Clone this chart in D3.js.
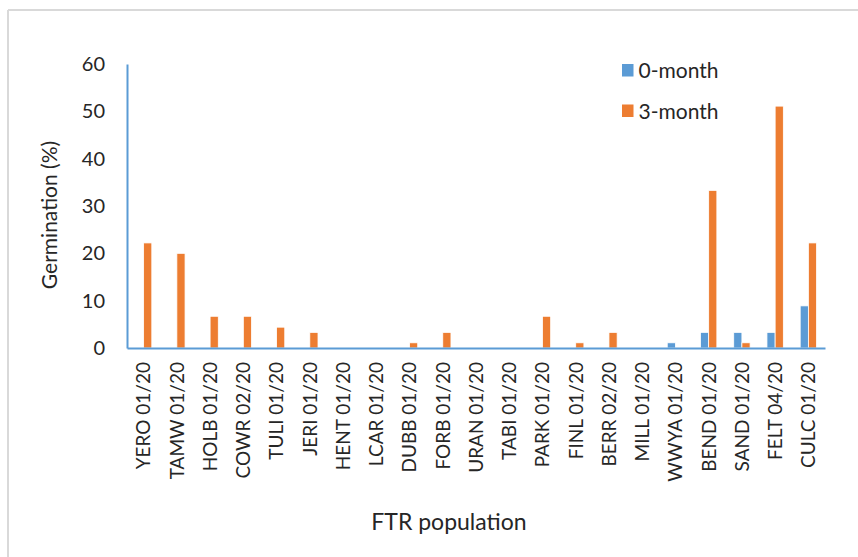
<!DOCTYPE html>
<html>
<head>
<meta charset="utf-8">
<script src="https://cdn.jsdelivr.net/npm/d3@7"></script>
<style>
  body { margin: 0; background: #fff; }
  svg text { font-family: Lato, Carlito, Calibri, sans-serif; fill: #262626; }
</style>
</head>
<body>
<script>
// data
const populations = ['YERO 01/20','TAMW 01/20','HOLB 01/20','COWR 02/20','TULI 01/20','JERI 01/20',
  'HENT 01/20','LCAR 01/20','DUBB 01/20','FORB 01/20','URAN 01/20','TABI 01/20','PARK 01/20',
  'FINL 01/20','BERR 02/20','MILL 01/20','WWYA 01/20','BEND 01/20','SAND 01/20','FELT 04/20','CULC 01/20'];
const seriesNames = ['0-month', '3-month'];
const zeroMonth  = [0,0,0,0,0,0,0,0,0,0,0,0,0,0,0,0,1.1,3.3,3.3,3.3,8.9];
const threeMonth = [22.2,20.0,6.7,6.7,4.4,3.3,0,0,1.1,3.3,0,0,6.7,1.1,3.3,0,0,33.3,1.1,51.1,22.2];
const yTicks = [0,10,20,30,40,50,60];

const w = 858, h = 557;
const colors = {'0-month': '#5B9BD5', '3-month': '#ED7D31'};

const rows = populations.map((p, i) => ({name: p, '0-month': zeroMonth[i], '3-month': threeMonth[i]}));

const svg = d3.select('body').append('svg').attr('width', w).attr('height', h);

// chart frame (only top and left edges visible)
svg.append('line').attr('x1', 8).attr('y1', 10).attr('x2', w).attr('y2', 10)
  .attr('stroke', '#d9d9d9').attr('stroke-width', 2);
svg.append('line').attr('x1', 8).attr('y1', 10).attr('x2', 8).attr('y2', h)
  .attr('stroke', '#d9d9d9').attr('stroke-width', 2);

const x0 = d3.scaleBand().domain(populations).range([127, 825])
  .paddingInner(0.507).paddingOuter(0.2535);
const x1 = d3.scaleBand().domain(seriesNames).range([0, x0.bandwidth()]);
const y = d3.scaleLinear().domain([0, 60]).range([348, 64]);

// bars
const groups = svg.selectAll('.grp').data(rows).enter().append('g')
  .attr('class', 'grp')
  .attr('transform', d => 'translate(' + x0(d.name) + ',0)');

groups.selectAll('rect')
  .data(d => seriesNames.map(k => ({key: k, value: d[k]})))
  .enter().append('rect')
  .filter(d => d.value > 0)
  .attr('x', d => x1(d.key))
  .attr('y', d => y(d.value))
  .attr('width', x1.bandwidth())
  .attr('height', d => y(0) - y(d.value))
  .attr('fill', d => colors[d.key])
  .attr('stroke', '#fff').attr('stroke-width', 0.8);

// y axis
const leftAxis = d3.axisLeft(y).tickValues(yTicks).tickSize(0).tickSizeOuter(0).tickPadding(22);
const gy = svg.append('g').attr('transform', 'translate(127,0)').call(leftAxis);
gy.select('.domain').attr('stroke', '#5B9BD5').attr('stroke-width', 2);
gy.selectAll('text').style('font-size', '20px');

// x axis
const bottomAxis = d3.axisBottom(x0).tickSize(0).tickSizeOuter(0);
const gx = svg.append('g').attr('transform', 'translate(0,348)').call(bottomAxis);
gx.select('.domain').attr('stroke', '#5B9BD5').attr('stroke-width', 2);
gx.selectAll('text')
  .style('font-size', '19px')
  .attr('text-anchor', 'end')
  .attr('transform', 'rotate(-90)')
  .attr('x', -14)
  .attr('y', 0)
  .attr('dy', '0.36em');

// axis titles
svg.append('text')
  .attr('transform', 'translate(57,215) rotate(-90)')
  .attr('text-anchor', 'middle')
  .style('font-size', '21px')
  .text('Germination (%)');

svg.append('text')
  .attr('x', 449).attr('y', 530)
  .attr('text-anchor', 'middle')
  .style('font-size', '23px')
  .text('FTR population');

// legend
const legend = svg.selectAll('.legend').data(seriesNames).enter().append('g')
  .attr('class', 'legend')
  .attr('transform', (d, i) => 'translate(622,' + (64 + i * 40.5) + ')');
legend.append('rect').attr('width', 11.5).attr('height', 12.5).attr('fill', d => colors[d]);
legend.append('text').attr('x', 16.5).attr('y', 6.5).attr('dy', '0.36em')
  .style('font-size', '21px').text(d => d);
</script>
</body>
</html>
